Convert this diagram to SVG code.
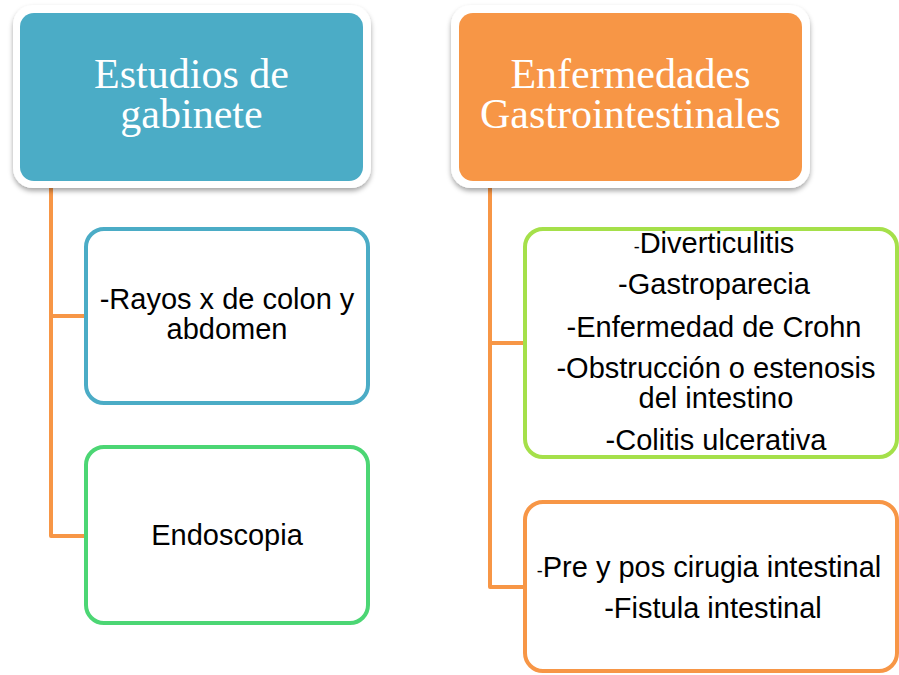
<svg xmlns="http://www.w3.org/2000/svg" width="899" height="675" viewBox="0 0 899 675">
<style>
.head{font-family:"Liberation Serif","Times New Roman",serif;font-size:42px;fill:#ffffff;text-anchor:middle}
.body{font-family:"Liberation Sans",Arial,sans-serif;font-size:29px;fill:#000000;text-anchor:middle}
.small{font-size:18px}
.conn{fill:none;stroke:#F79646;stroke-width:4;stroke-linejoin:round}
.child{fill:#ffffff;stroke-width:4}
</style>
<defs>
<filter id="sh" x="-10%" y="-10%" width="120%" height="130%">
<feDropShadow dx="0" dy="3" stdDeviation="2.5" flood-color="#000000" flood-opacity="0.35"/>
</filter>
</defs>
<rect width="899" height="675" fill="#ffffff"/>
<g id="connectors">
<polyline class="conn" points="51,184 51,316 86,316"/>
<polyline class="conn" points="51,316 51,536 86,536"/>
<polyline class="conn" points="490,184 490,343 525,343"/>
<polyline class="conn" points="490,343 490,587 525,587"/>
</g>
<g id="node-estudios">
<rect x="13" y="5" width="358" height="183" rx="20" fill="#ffffff" filter="url(#sh)"/>
<rect x="20" y="13" width="343" height="168" rx="14" fill="#4BACC6"/>
<text class="head" x="191.5" y="88">Estudios de</text>
<text class="head" x="191.5" y="128">gabinete</text>
</g>
<g id="node-enfermedades">
<rect x="451" y="5" width="359" height="183" rx="20" fill="#ffffff" filter="url(#sh)"/>
<rect x="459" y="13" width="343" height="168" rx="14" fill="#F79646"/>
<text class="head" x="630.5" y="88">Enfermedades</text>
<text class="head" x="630.5" y="128">Gastrointestinales</text>
</g>
<g id="node-rayos">
<rect class="child" x="86" y="229" width="282" height="174" rx="18" stroke="#4BACC6"/>
<text class="body" x="227" y="309">-Rayos x de colon y</text>
<text class="body" x="227" y="339">abdomen</text>
</g>
<g id="node-endoscopia">
<rect class="child" x="86" y="447" width="282" height="176" rx="18" stroke="#4CD674"/>
<text class="body" x="227" y="545">Endoscopia</text>
</g>
<g id="node-lista">
<rect class="child" x="525" y="229" width="372" height="228" rx="18" stroke="#A5E04A"/>
<text class="body" x="714" y="253"><tspan class="small">-</tspan>Diverticulitis</text>
<text class="body" x="714" y="294">-Gastroparecia</text>
<text class="body" x="714" y="337">-Enfermedad de Crohn</text>
<text class="body" x="716" y="378">-Obstrucción o estenosis</text>
<text class="body" x="716" y="408">del intestino</text>
<text class="body" x="716" y="450">-Colitis ulcerativa</text>
</g>
<g id="node-cirugia">
<rect class="child" x="525" y="502" width="372" height="169" rx="18" stroke="#F79646"/>
<text class="body" x="709" y="577"><tspan class="small">-</tspan>Pre y pos cirugia intestinal</text>
<text class="body" x="713" y="618">-Fistula intestinal</text>
</g>
</svg>
